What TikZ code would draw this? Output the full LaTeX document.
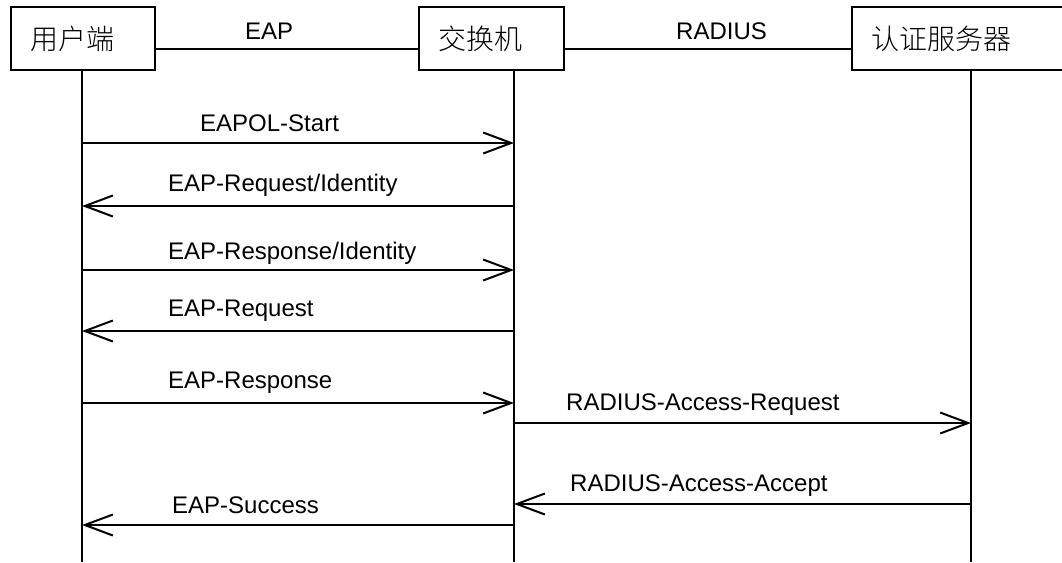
\documentclass[tikz,border=0pt]{standalone}
\usepackage{fontspec}
\setmainfont{Liberation Sans}
\newfontfamily\cjk{Noto Sans CJK SC Light}
\usetikzlibrary{arrows.meta}
\begin{document}
\begin{tikzpicture}[x=1pt,y=-1pt,
  actor/.style={draw,line width=1.6pt,minimum height=63pt,text width=#1,inner xsep=20pt,inner ysep=0pt,align=left,anchor=west,font=\cjk\fontsize{28}{30}\selectfont},
  life/.style={line width=2pt},
  link/.style={line width=2pt},
  msg/.style={line width=2pt,-{Straight Barb[length=28pt,width=21pt,line width=2pt]}},
  lbl/.style={font=\fontsize{24}{28}\selectfont,anchor=base west,inner sep=0pt},
]
\useasboundingbox (0,0) rectangle (1062,562);
\clip (0,0) rectangle (1062,562);

% actors
\node[actor=104pt] (user) at (10,38.5) {用户端};
\node[actor=105pt] (switch) at (418,38.5) {交换机};
\node[actor=184pt] (server) at (851,38.5) {认证服务器};

% links between actors
\draw[link] ([yshift=-10.5pt]user.east) -- ([yshift=-10.5pt]switch.west);
\draw[link] ([yshift=-10.5pt]switch.east) -- ([yshift=-10.5pt]server.west);
\node[lbl] (leap) at (245,39) {EAP};
\node[lbl] (lrad) at (676,39) {RADIUS};

% lifelines
\coordinate (uT) at (82,70);   \coordinate (uB) at (82,562);
\coordinate (sT) at (514,70);  \coordinate (sB) at (514,562);
\coordinate (aT) at (971,70);  \coordinate (aB) at (971,562);
\draw[life] (uT) -- (uB);
\draw[life] (sT) -- (sB);
\draw[life] (aT) -- (aB);

% message anchor points
\coordinate (u1) at (82,143);  \coordinate (s1) at (514,143);
\coordinate (u2) at (82,206);  \coordinate (s2) at (514,206);
\coordinate (u3) at (82,270);  \coordinate (s3) at (514,270);
\coordinate (u4) at (82,331);  \coordinate (s4) at (514,331);
\coordinate (u5) at (82,403);  \coordinate (s5) at (514,403);
\coordinate (s6) at (514,423); \coordinate (a6) at (971,423);
\coordinate (s7) at (514,504); \coordinate (a7) at (971,504);
\coordinate (u8) at (82,525);  \coordinate (s8) at (514,525);

% messages
\draw[msg] (u1) -- (s1);
\node[lbl] (m1) at (200,131.7) {EAPOL-Start};
\draw[msg] (s2) -- (u2);
\node[lbl] (m2) at (168,191.5) {EAP-Request/Identity};
\draw[msg] (u3) -- (s3);
\node[lbl] (m3) at (168,259) {EAP-Response/Identity};
\draw[msg] (s4) -- (u4);
\node[lbl] (m4) at (168,316) {EAP-Request};
\draw[msg] (u5) -- (s5);
\node[lbl] (m5) at (168,388) {EAP-Response};
\draw[msg] (s6) -- (a6);
\node[lbl] (m6) at (566,410) {RADIUS-Access-Request};
\draw[msg] (a7) -- (s7);
\node[lbl] (m7) at (570,491.7) {RADIUS-Access-Accept};
\draw[msg] (s8) -- (u8);
\node[lbl] (m8) at (172,513) {EAP-Success};
\end{tikzpicture}
\end{document}
